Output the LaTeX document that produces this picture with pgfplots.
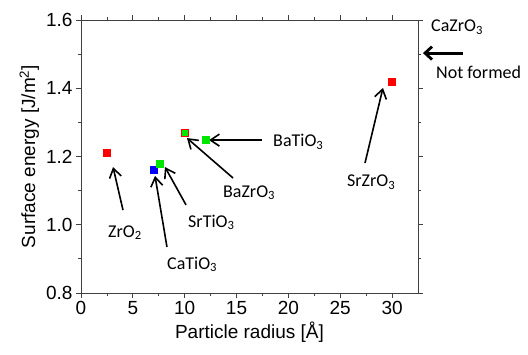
\documentclass[border=0pt]{standalone}
\usepackage{pgfplots}
\pgfplotsset{compat=1.18}
\usepackage{fontspec}
\setmainfont{Liberation Sans}
\newfontfamily\calib{Carlito}
\usetikzlibrary{arrows.meta}
\definecolor{myred}{RGB}{255,0,0}
\definecolor{mygreen}{RGB}{0,230,0}
\definecolor{myblue}{RGB}{0,0,255}
\begin{document}
\begin{tikzpicture}
\begin{axis}[
  scale only axis, width=337pt, height=273pt,
  xmin=0, xmax=32.5, ymin=0.8, ymax=1.6,
  xtick={0,5,...,30}, ytick={0.8,1.0,1.2,1.4,1.6},
  minor x tick num=1, minor y tick num=1,
  tick align=outside,
  major tick length=5pt, minor tick length=3pt,
  axis line style={black!75, line width=0.8pt},
  every tick/.style={black!75, line width=0.8pt},
  /pgf/number format/assume math mode=true,
  yticklabel style={/pgf/number format/fixed, /pgf/number format/fixed zerofill, /pgf/number format/precision=1},
  ticklabel style={font=\fontsize{19}{21}\selectfont, text=black},
  label style={font=\fontsize{19}{21}\selectfont, text=black},
  xlabel={Particle radius [Å]},
  ylabel={Surface energy [J/m\textsuperscript{2}]},
  clip=false,
]
\addplot[only marks, mark=square*, mark size=3.5pt, color=myred] coordinates {(2.5,1.21) (30,1.42)};
\addplot[only marks, mark=square*, mark size=3.5pt, color=myblue] coordinates {(7.0,1.16)};
\addplot[only marks, mark=square*, mark size=3.5pt, color=mygreen] coordinates {(7.6,1.18) (12.0,1.25)};
\addplot[only marks, mark=square*, mark size=3.5pt, draw=myred, fill=mygreen, mark options={line width=0.8pt}] coordinates {(10.0,1.27)};

\begin{scope}[line width=1.6pt, -{Straight Barb[length=9pt,width=12pt]}]
\draw (axis cs:4.05,1.043) -- (axis cs:3.09,1.169);
\draw (axis cs:8.29,0.935) -- (axis cs:7.14,1.143);
\draw (axis cs:10.13,1.058) -- (axis cs:8.10,1.169);
\draw (axis cs:14.66,1.137) -- (axis cs:10.22,1.254);
\draw (axis cs:17.45,1.248) -- (axis cs:12.34,1.248);
\draw (axis cs:27.39,1.181) -- (axis cs:29.12,1.401);
\end{scope}
\draw[line width=2.8pt, -{Straight Barb[length=7pt,width=13pt]}] (axis cs:36.8,1.503) -- (axis cs:32.98,1.503);

\begin{scope}[every node/.style={font=\calib\fontsize{18}{20}\selectfont, anchor=base west, inner sep=0pt}]
\node at (axis cs:2.60,0.964) {ZrO\textsubscript{2}};
\node at (axis cs:8.29,0.870) {CaTiO\textsubscript{3}};
\node at (axis cs:10.32,0.993) {SrTiO\textsubscript{3}};
\node at (axis cs:13.69,1.081) {BaZrO\textsubscript{3}};
\node at (axis cs:18.52,1.228) {BaTiO\textsubscript{3}};
\node at (axis cs:25.65,1.111) {SrZrO\textsubscript{3}};
\node at (axis cs:33.75,1.565) {CaZrO\textsubscript{3}};
\node at (axis cs:34.23,1.430) {Not formed};
\end{scope}
\end{axis}
\path (current axis.south west) ++(-81pt,-61pt) rectangle ++(528pt,354pt);
\end{tikzpicture}
\end{document}
